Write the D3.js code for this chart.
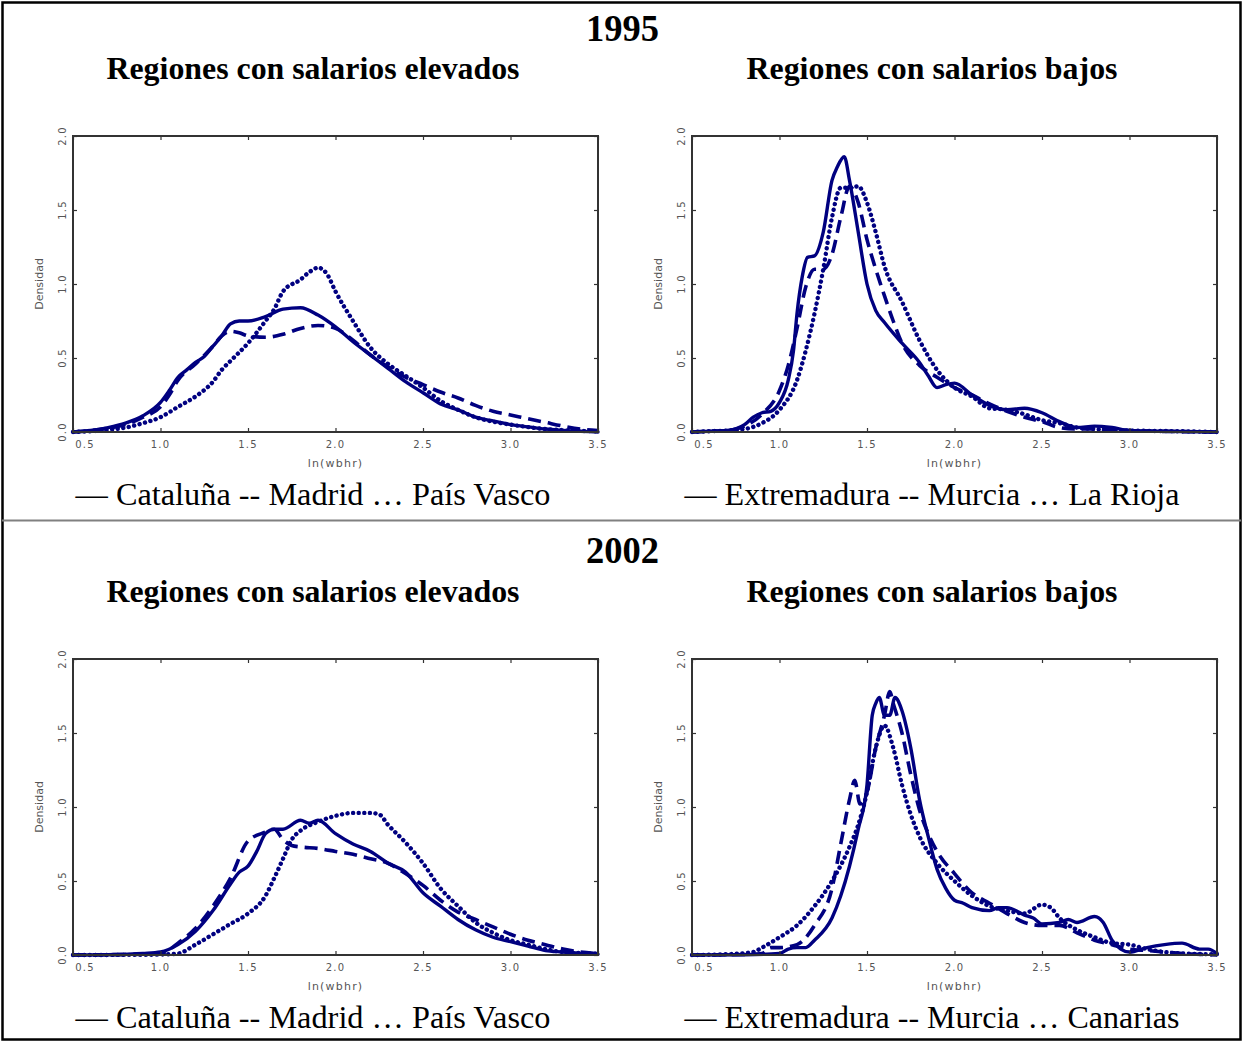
<!DOCTYPE html>
<html>
<head>
<meta charset="utf-8">
<script src="https://cdn.jsdelivr.net/npm/d3@7"></script>
<style>
  html, body { margin: 0; padding: 0; background: #fff; }
  svg { display: block; }
</style>
</head>
<body>
<svg id="fig" width="1243" height="1042"></svg>
<script>
// Kernel density estimates of ln(wbhr), by region, 1995 and 2002.
const xTicks = [0.5, 1.0, 1.5, 2.0, 2.5, 3.0, 3.5];
const yTicks = [0.0, 0.5, 1.0, 1.5, 2.0];
const years = ["1995", "2002"];
const groupTitles = ["Regiones con salarios elevados", "Regiones con salarios bajos"];
const legends = [
  "\u2014 Cataluña -- Madrid \u2026 País Vasco",
  "\u2014 Extremadura -- Murcia \u2026 La Rioja",
  "\u2014 Cataluña -- Madrid \u2026 País Vasco",
  "\u2014 Extremadura -- Murcia \u2026 Canarias"
];

// 1995, high-wage regions
const cataluna1995 = [[0.5,0],[0.6,0.01],[0.7,0.03],[0.8,0.06],[0.9,0.11],[1.0,0.2],[1.05,0.28],[1.1,0.37],[1.15,0.42],[1.2,0.47],[1.25,0.51],[1.3,0.58],[1.35,0.65],[1.4,0.73],[1.45,0.75],[1.5,0.75],[1.6,0.78],[1.7,0.83],[1.8,0.84],[1.9,0.79],[2.0,0.71],[2.1,0.61],[2.2,0.52],[2.3,0.43],[2.4,0.34],[2.5,0.265],[2.6,0.19],[2.7,0.15],[2.8,0.1],[2.9,0.075],[3.0,0.05],[3.1,0.035],[3.2,0.02],[3.3,0.01],[3.4,0.005],[3.5,0]];
const madrid1995 = [[0.5,0],[0.6,0.01],[0.7,0.025],[0.8,0.05],[0.9,0.1],[1.0,0.17],[1.05,0.25],[1.1,0.35],[1.2,0.46],[1.3,0.58],[1.35,0.65],[1.4,0.68],[1.45,0.67],[1.5,0.65],[1.6,0.64],[1.7,0.66],[1.8,0.7],[1.9,0.72],[2.0,0.7],[2.1,0.62],[2.2,0.52],[2.3,0.44],[2.4,0.37],[2.5,0.32],[2.6,0.27],[2.7,0.23],[2.8,0.18],[2.9,0.14],[3.0,0.115],[3.1,0.09],[3.2,0.065],[3.3,0.04],[3.4,0.02],[3.5,0.01]];
const paisVasco1995 = [[0.5,0],[0.6,0.005],[0.7,0.015],[0.8,0.03],[0.9,0.06],[1.0,0.1],[1.1,0.17],[1.2,0.24],[1.3,0.34],[1.35,0.42],[1.4,0.48],[1.5,0.6],[1.6,0.75],[1.65,0.83],[1.7,0.95],[1.8,1.03],[1.85,1.08],[1.9,1.11],[1.95,1.07],[2.0,0.95],[2.1,0.75],[2.2,0.57],[2.3,0.46],[2.4,0.38],[2.5,0.3],[2.6,0.21],[2.7,0.15],[2.8,0.1],[2.9,0.07],[3.0,0.05],[3.2,0.02],[3.35,0.01],[3.5,0.005]];

// 1995, low-wage regions
const extremadura1995 = [[0.5,0],[0.6,0.005],[0.7,0.01],[0.8,0.05],[0.85,0.1],[0.9,0.13],[0.95,0.14],[1.0,0.2],[1.05,0.35],[1.08,0.55],[1.1,0.8],[1.13,1.05],[1.16,1.18],[1.2,1.19],[1.25,1.35],[1.3,1.7],[1.33,1.79],[1.37,1.86],[1.4,1.7],[1.45,1.35],[1.5,1.0],[1.55,0.82],[1.6,0.74],[1.7,0.6],[1.8,0.47],[1.85,0.38],[1.9,0.3],[1.95,0.32],[2.0,0.33],[2.1,0.25],[2.2,0.18],[2.3,0.15],[2.4,0.16],[2.5,0.13],[2.6,0.07],[2.7,0.03],[2.8,0.04],[2.9,0.03],[3.0,0.01],[3.2,0.005],[3.5,0]];
const murcia1995 = [[0.5,0],[0.6,0.005],[0.7,0.01],[0.8,0.04],[0.9,0.12],[1.0,0.28],[1.05,0.45],[1.1,0.7],[1.15,0.98],[1.2,1.1],[1.25,1.1],[1.3,1.2],[1.35,1.45],[1.4,1.66],[1.45,1.55],[1.5,1.3],[1.55,1.1],[1.6,0.92],[1.65,0.75],[1.7,0.6],[1.8,0.45],[1.9,0.37],[2.0,0.3],[2.1,0.25],[2.2,0.19],[2.3,0.14],[2.4,0.1],[2.5,0.07],[2.6,0.03],[2.7,0.02],[2.8,0.02],[3.0,0.01],[3.5,0]];
const rioja1995 = [[0.5,0],[0.6,0.005],[0.7,0.01],[0.8,0.02],[0.9,0.06],[1.0,0.15],[1.1,0.35],[1.15,0.55],[1.2,0.8],[1.25,1.1],[1.3,1.45],[1.35,1.65],[1.4,1.65],[1.45,1.66],[1.5,1.55],[1.55,1.35],[1.6,1.12],[1.7,0.88],[1.8,0.62],[1.9,0.42],[2.0,0.3],[2.1,0.24],[2.2,0.16],[2.3,0.15],[2.4,0.12],[2.5,0.08],[2.6,0.06],[2.7,0.03],[2.8,0.02],[3.0,0.01],[3.3,0.005],[3.5,0]];

// 2002, high-wage regions
const cataluna2002 = [[0.5,0],[0.7,0.002],[0.9,0.01],[1.0,0.02],[1.1,0.07],[1.2,0.16],[1.3,0.3],[1.4,0.48],[1.45,0.56],[1.5,0.6],[1.55,0.7],[1.6,0.82],[1.65,0.85],[1.7,0.85],[1.8,0.91],[1.85,0.89],[1.9,0.91],[2.0,0.82],[2.1,0.75],[2.2,0.7],[2.3,0.62],[2.4,0.56],[2.5,0.42],[2.6,0.33],[2.7,0.24],[2.8,0.17],[2.9,0.12],[3.0,0.09],[3.1,0.06],[3.2,0.03],[3.3,0.02],[3.4,0.01],[3.5,0.005]];
const madrid2002 = [[0.5,0],[0.7,0.002],[0.9,0.005],[1.0,0.01],[1.1,0.08],[1.2,0.18],[1.3,0.33],[1.4,0.52],[1.5,0.77],[1.6,0.83],[1.65,0.85],[1.7,0.78],[1.75,0.74],[1.8,0.73],[1.9,0.72],[2.0,0.7],[2.1,0.68],[2.2,0.65],[2.3,0.62],[2.4,0.55],[2.5,0.47],[2.6,0.37],[2.7,0.29],[2.8,0.24],[2.9,0.19],[3.0,0.14],[3.1,0.1],[3.2,0.07],[3.3,0.04],[3.4,0.02],[3.5,0.01]];
const paisVasco2002 = [[0.5,0],[0.8,0.001],[1.0,0.003],[1.1,0.01],[1.2,0.07],[1.3,0.14],[1.4,0.21],[1.5,0.28],[1.6,0.4],[1.65,0.52],[1.7,0.65],[1.75,0.78],[1.8,0.84],[1.9,0.9],[2.0,0.94],[2.1,0.96],[2.2,0.96],[2.25,0.95],[2.3,0.88],[2.4,0.76],[2.5,0.62],[2.6,0.45],[2.7,0.33],[2.8,0.22],[2.9,0.15],[3.0,0.1],[3.1,0.07],[3.2,0.04],[3.3,0.02],[3.5,0.01]];

// 2002, low-wage regions
const extremadura2002 = [[0.5,0],[0.8,0.002],[1.0,0.01],[1.05,0.04],[1.1,0.05],[1.15,0.05],[1.2,0.1],[1.3,0.25],[1.35,0.4],[1.4,0.6],[1.45,0.85],[1.5,1.15],[1.53,1.62],[1.55,1.7],[1.57,1.74],[1.6,1.62],[1.63,1.62],[1.66,1.74],[1.7,1.65],[1.75,1.4],[1.8,1.05],[1.85,0.8],[1.9,0.58],[1.95,0.45],[2.0,0.37],[2.05,0.35],[2.1,0.32],[2.2,0.3],[2.25,0.32],[2.3,0.32],[2.4,0.27],[2.45,0.25],[2.5,0.21],[2.6,0.22],[2.65,0.24],[2.7,0.22],[2.8,0.26],[2.85,0.22],[2.9,0.1],[2.95,0.04],[3.0,0.02],[3.1,0.05],[3.2,0.07],[3.3,0.08],[3.4,0.04],[3.45,0.04],[3.5,0.01]];
const murcia2002 = [[0.5,0],[0.8,0.003],[0.9,0.01],[0.95,0.05],[1.0,0.05],[1.1,0.07],[1.2,0.2],[1.3,0.45],[1.35,0.75],[1.4,1.05],[1.43,1.18],[1.46,1.02],[1.5,1.1],[1.55,1.4],[1.6,1.62],[1.63,1.78],[1.65,1.7],[1.7,1.5],[1.75,1.22],[1.8,0.98],[1.85,0.82],[1.9,0.7],[2.0,0.55],[2.1,0.42],[2.2,0.35],[2.3,0.28],[2.4,0.22],[2.5,0.2],[2.6,0.2],[2.7,0.15],[2.8,0.1],[2.9,0.07],[3.0,0.04],[3.1,0.03],[3.2,0.02],[3.3,0.01],[3.5,0]];
const canarias2002 = [[0.5,0],[0.7,0.005],[0.85,0.02],[0.9,0.05],[1.0,0.12],[1.1,0.2],[1.2,0.33],[1.3,0.5],[1.4,0.73],[1.45,0.88],[1.5,1.1],[1.55,1.4],[1.6,1.55],[1.65,1.4],[1.7,1.15],[1.75,0.95],[1.8,0.8],[1.9,0.62],[2.0,0.5],[2.1,0.4],[2.2,0.33],[2.3,0.3],[2.4,0.28],[2.5,0.34],[2.55,0.32],[2.6,0.25],[2.7,0.17],[2.8,0.12],[2.9,0.08],[3.0,0.07],[3.1,0.04],[3.2,0.02],[3.3,0.01],[3.5,0.005]];

const panelSeries = [
  [cataluna1995, madrid1995, paisVasco1995],
  [extremadura1995, murcia1995, rioja1995],
  [cataluna2002, madrid2002, paisVasco2002],
  [extremadura2002, murcia2002, canarias2002]
];

const lineColor = "#000080";
const styles = [
  { dash: null, width: 3.4, cap: "round" },
  { dash: "13,7", width: 3.6, cap: "butt" },
  { dash: "0.1,5.5", width: 4.4, cap: "round" }
];

const svg = d3.select("#fig");

// outer frame and the divider between the two years
svg.append("rect")
  .attr("x", 2.5).attr("y", 2.5).attr("width", 1238).attr("height", 1037)
  .attr("fill", "none").attr("stroke", "#000").attr("stroke-width", 2.5);
svg.append("line")
  .attr("x1", 2).attr("x2", 1241).attr("y1", 520.5).attr("y2", 520.5)
  .attr("stroke", "#808080").attr("stroke-width", 2);

const panels = [
  { left: 73,  top: 136, title: 0, year: 0 },
  { left: 692, top: 136, title: 1, year: 0 },
  { left: 73,  top: 659, title: 0, year: 1 },
  { left: 692, top: 659, title: 1, year: 1 }
];
const plotW = 525, plotH = 296;
const serif = "'Liberation Serif', 'Times New Roman', serif";

// year headings
years.forEach((yr, i) => {
  svg.append("text")
    .attr("x", 622.5).attr("y", i === 0 ? 41 : 563)
    .attr("text-anchor", "middle")
    .attr("font-family", serif)
    .attr("font-weight", "bold").attr("font-size", 37)
    .attr("textLength", 73).attr("lengthAdjust", "spacingAndGlyphs")
    .text(yr);
});

const line = d3.line().curve(d3.curveMonotoneX);

panels.forEach((p, k) => {
  const x = d3.scaleLinear().domain([0.5, 3.5]).range([p.left, p.left + plotW]);
  const y = d3.scaleLinear().domain([0, 2]).range([p.top + plotH, p.top]);
  const g = svg.append("g");
  const cx = p.left + plotW / 2 - 22.5;

  // group heading
  g.append("text")
    .attr("x", cx).attr("y", p.top - 57)
    .attr("text-anchor", "middle")
    .attr("font-family", serif)
    .attr("font-weight", "bold").attr("font-size", 31)
    .attr("textLength", p.title === 0 ? 413 : 371).attr("lengthAdjust", "spacingAndGlyphs")
    .text(groupTitles[p.title]);

  // density curves
  line.x(d => x(d[0])).y(d => y(d[1]));
  panelSeries[k].forEach((data, s) => {
    const st = styles[s];
    g.append("path")
      .datum(data)
      .attr("d", line)
      .attr("fill", "none")
      .attr("stroke", lineColor)
      .attr("stroke-width", st.width)
      .attr("stroke-linecap", st.cap)
      .attr("stroke-linejoin", "round")
      .attr("stroke-dasharray", st.dash);
  });

  // plot frame with inward ticks on all four sides
  const tickLen = 4;
  const axisStyle = sel => {
    sel.select(".domain").remove();
    sel.selectAll(".tick line").attr("stroke", "#333").attr("stroke-width", 1.2);
    sel.selectAll(".tick text").remove();
  };
  g.append("g").attr("transform", `translate(0,${p.top + plotH})`)
    .call(d3.axisTop(x).tickValues(xTicks).tickSize(tickLen)).call(axisStyle);
  g.append("g").attr("transform", `translate(0,${p.top})`)
    .call(d3.axisBottom(x).tickValues(xTicks).tickSize(tickLen)).call(axisStyle);
  g.append("g").attr("transform", `translate(${p.left},0)`)
    .call(d3.axisRight(y).tickValues(yTicks).tickSize(tickLen)).call(axisStyle);
  g.append("g").attr("transform", `translate(${p.left + plotW},0)`)
    .call(d3.axisLeft(y).tickValues(yTicks).tickSize(tickLen)).call(axisStyle);
  g.append("rect")
    .attr("x", p.left).attr("y", p.top).attr("width", plotW).attr("height", plotH)
    .attr("fill", "none").attr("stroke", "#333").attr("stroke-width", 2);

  const small = "'DejaVu Sans', Verdana, sans-serif";
  // x tick labels
  g.selectAll(".xl").data(xTicks).enter().append("text")
    .attr("x", (d, i) => x(d) + (i === 0 ? 12 : 0))
    .attr("y", p.top + plotH + 16)
    .attr("text-anchor", "middle")
    .attr("font-family", small).attr("font-size", 10)
    .attr("letter-spacing", 1.2).attr("fill", "#555")
    .text(d => d.toFixed(1));
  // y tick labels, rotated
  g.selectAll(".yl").data(yTicks).enter().append("text")
    .attr("transform", d => `translate(${p.left - 7},${y(d)}) rotate(-90)`)
    .attr("text-anchor", "middle")
    .attr("font-family", small).attr("font-size", 10)
    .attr("letter-spacing", 1.2).attr("fill", "#555")
    .text(d => d.toFixed(1));
  // axis titles
  g.append("text")
    .attr("x", x(2.0)).attr("y", p.top + plotH + 35)
    .attr("text-anchor", "middle")
    .attr("font-family", small).attr("font-size", 11)
    .attr("letter-spacing", 1.2).attr("fill", "#555")
    .text("ln(wbhr)");
  g.append("text")
    .attr("transform", `translate(${p.left - 30},${y(1.0)}) rotate(-90)`)
    .attr("text-anchor", "middle")
    .attr("font-family", small).attr("font-size", 11)
    .attr("fill", "#555")
    .text("Densidad");

  // line key under the plot
  g.append("text")
    .attr("x", cx).attr("y", p.top + plotH + 73)
    .attr("text-anchor", "middle")
    .attr("font-family", serif)
    .attr("font-size", 31)
    .attr("textLength", k % 2 === 0 ? 475 : 495).attr("lengthAdjust", "spacingAndGlyphs")
    .text(legends[k]);
});
</script>
</body>
</html>
